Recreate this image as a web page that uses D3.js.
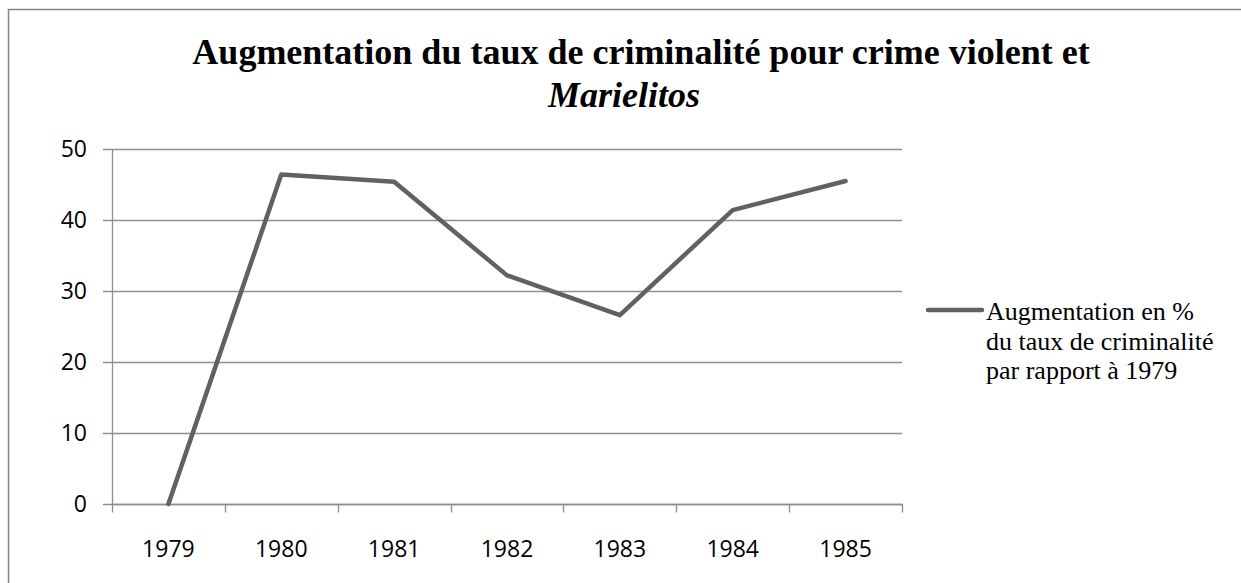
<!DOCTYPE html>
<html>
<head>
<meta charset="utf-8">
<script src="https://cdn.jsdelivr.net/npm/d3@7"></script>
<style>
  body { margin: 0; background: #fff; }
</style>
</head>
<body>
<div id="chart"></div>
<script>
// data
var years = ["1979", "1980", "1981", "1982", "1983", "1984", "1985"];
var hausse = [0, 46.4, 45.4, 32.2, 26.6, 41.4, 45.5];
var yTicks = [0, 10, 20, 30, 40, 50];
var legendLines = ["Augmentation en %", "du taux de criminalité", "par rapport à 1979"];

var W = 1241, H = 583;
var plot = { left: 112, right: 902, top: 149, bottom: 504 };

var svg = d3.select("#chart").append("svg")
    .attr("width", W)
    .attr("height", H);

// outer frame
svg.append("rect")
    .attr("x", 8.5).attr("y", 9.5)
    .attr("width", W + 20).attr("height", H + 20)
    .attr("fill", "none")
    .attr("stroke", "#868686")
    .attr("stroke-width", 1.5);

var x = d3.scaleBand()
    .domain(years)
    .range([plot.left, plot.right]);

var y = d3.scaleLinear()
    .domain([0, 50])
    .range([plot.bottom, plot.top]);

// gridlines (they also make the small y ticks left of the axis)
svg.append("g")
    .selectAll("line")
    .data(yTicks)
    .enter()
    .append("line")
    .attr("x1", plot.left - 9)
    .attr("x2", plot.right)
    .attr("y1", function(d) { return Math.round(y(d)) + 0.5; })
    .attr("y2", function(d) { return Math.round(y(d)) + 0.5; })
    .attr("stroke", "#8e8e8e")
    .attr("stroke-width", 1.3);

// y axis line
svg.append("line")
    .attr("x1", plot.left + 0.5).attr("x2", plot.left + 0.5)
    .attr("y1", plot.top).attr("y2", plot.bottom + 1)
    .attr("stroke", "#8e8e8e")
    .attr("stroke-width", 1.3);

// y labels
svg.append("g")
    .selectAll("text")
    .data(yTicks)
    .enter()
    .append("text")
    .attr("x", 87)
    .attr("y", function(d) { return y(d); })
    .attr("dy", "0.36em")
    .attr("text-anchor", "end")
    .style("font-family", "'Open Sans', sans-serif")
    .style("font-size", "23px")
    .attr("fill", "#000")
    .text(function(d) { return d; });

// x axis, ticks sit on band edges
var xAxis = svg.append("g")
    .attr("transform", "translate(0," + (Math.round(plot.bottom) + 0.5) + ")");

xAxis.append("line")
    .attr("x1", plot.left).attr("x2", plot.right + 1)
    .attr("stroke", "#8e8e8e")
    .attr("stroke-width", 1.3);

var edges = years.map(function(d) { return x(d); }).concat([plot.right]);
xAxis.selectAll(".tk")
    .data(edges)
    .enter()
    .append("line")
    .attr("class", "tk")
    .attr("x1", function(d) { return Math.round(d) + 0.5; })
    .attr("x2", function(d) { return Math.round(d) + 0.5; })
    .attr("y1", 0).attr("y2", 8)
    .attr("stroke", "#8e8e8e")
    .attr("stroke-width", 1.3);

xAxis.selectAll("text")
    .data(years)
    .enter()
    .append("text")
    .attr("x", function(d) { return x(d) + x.bandwidth() / 2; })
    .attr("y", 44)
    .attr("dy", "0.36em")
    .attr("text-anchor", "middle")
    .style("font-family", "'Open Sans', sans-serif")
    .style("font-size", "23px")
    .attr("fill", "#000")
    .text(function(d) { return d; });

// the line
var line = d3.line()
    .x(function(d, i) { return x(years[i]) + x.bandwidth() / 2; })
    .y(function(d) { return y(d); });

svg.append("path")
    .datum(hausse)
    .attr("d", line)
    .attr("fill", "none")
    .attr("stroke", "#616161")
    .attr("stroke-width", 4.5)
    .attr("stroke-linejoin", "round")
    .attr("stroke-linecap", "round");

// title
var title = svg.append("text")
    .attr("x", 641)
    .attr("text-anchor", "middle")
    .style("font-family", "'Liberation Serif', 'Times New Roman', serif")
    .style("font-size", "36px")
    .style("font-weight", "bold")
    .attr("fill", "#000");

title.append("tspan")
    .attr("x", 641).attr("y", 64)
    .text("Augmentation du taux de criminalité pour crime violent et");
title.append("tspan")
    .attr("x", 624).attr("y", 106.5)
    .style("font-style", "italic")
    .text("Marielitos");

// legend
svg.append("line")
    .attr("x1", 928).attr("x2", 982)
    .attr("y1", 310).attr("y2", 310)
    .attr("stroke", "#616161")
    .attr("stroke-width", 4.5)
    .attr("stroke-linecap", "round");

svg.append("g")
    .selectAll("text")
    .data(legendLines)
    .enter()
    .append("text")
    .attr("x", 986)
    .attr("y", function(d, i) { return 320 + i * 29.5; })
    .style("font-family", "'Liberation Serif', 'Times New Roman', serif")
    .style("font-size", "26px")
    .attr("fill", "#000")
    .text(function(d) { return d; });
</script>
</body>
</html>
